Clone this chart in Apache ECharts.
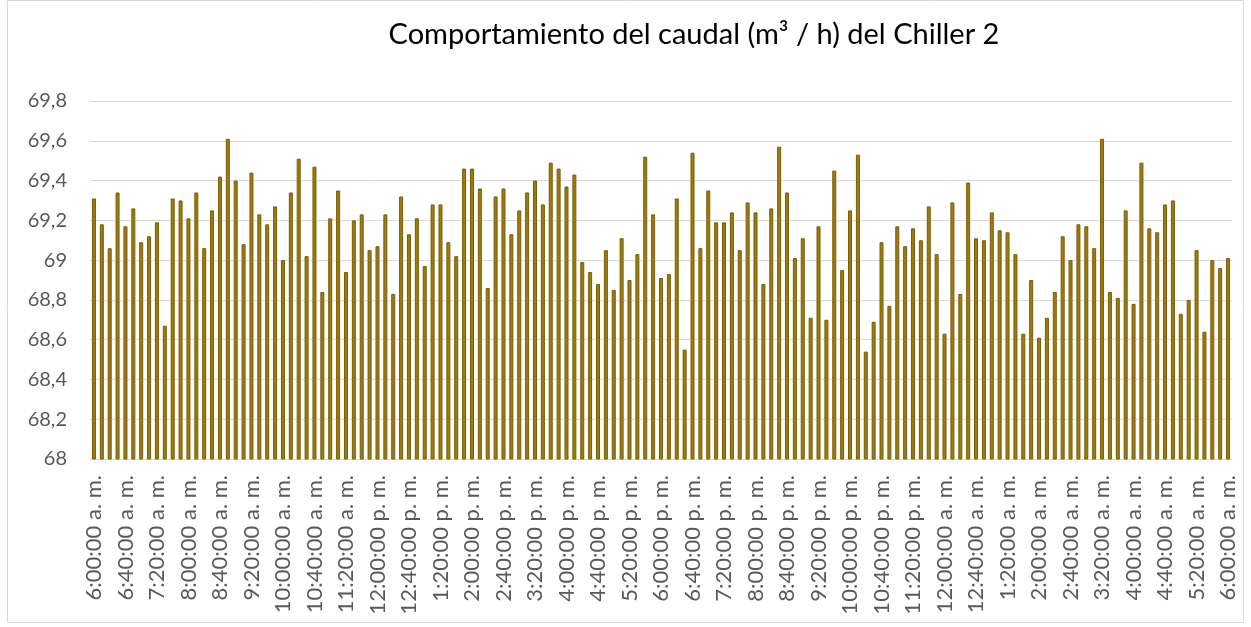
<!DOCTYPE html>
<html>
<head>
<meta charset="utf-8">
<title>Caudal Chiller 2</title>
<script src="https://cdn.jsdelivr.net/npm/echarts@6/dist/echarts.min.js"></script>
<style>
  html, body { margin: 0; padding: 0; background: #fff; }
  #chart { width: 1251px; height: 627px; }
</style>
</head>
<body>
<div id="chart"></div>
<script>
// horas cada 10 minutos, de 6:00 a. m. a 6:00 a. m. del dia siguiente
var horas = [
  '6:00:00 a. m.', '6:10:00 a. m.', '6:20:00 a. m.', '6:30:00 a. m.', '6:40:00 a. m.', '6:50:00 a. m.',
  '7:00:00 a. m.', '7:10:00 a. m.', '7:20:00 a. m.', '7:30:00 a. m.', '7:40:00 a. m.', '7:50:00 a. m.',
  '8:00:00 a. m.', '8:10:00 a. m.', '8:20:00 a. m.', '8:30:00 a. m.', '8:40:00 a. m.', '8:50:00 a. m.',
  '9:00:00 a. m.', '9:10:00 a. m.', '9:20:00 a. m.', '9:30:00 a. m.', '9:40:00 a. m.', '9:50:00 a. m.',
  '10:00:00 a. m.', '10:10:00 a. m.', '10:20:00 a. m.', '10:30:00 a. m.', '10:40:00 a. m.', '10:50:00 a. m.',
  '11:00:00 a. m.', '11:10:00 a. m.', '11:20:00 a. m.', '11:30:00 a. m.', '11:40:00 a. m.', '11:50:00 a. m.',
  '12:00:00 p. m.', '12:10:00 p. m.', '12:20:00 p. m.', '12:30:00 p. m.', '12:40:00 p. m.', '12:50:00 p. m.',
  '1:00:00 p. m.', '1:10:00 p. m.', '1:20:00 p. m.', '1:30:00 p. m.', '1:40:00 p. m.', '1:50:00 p. m.',
  '2:00:00 p. m.', '2:10:00 p. m.', '2:20:00 p. m.', '2:30:00 p. m.', '2:40:00 p. m.', '2:50:00 p. m.',
  '3:00:00 p. m.', '3:10:00 p. m.', '3:20:00 p. m.', '3:30:00 p. m.', '3:40:00 p. m.', '3:50:00 p. m.',
  '4:00:00 p. m.', '4:10:00 p. m.', '4:20:00 p. m.', '4:30:00 p. m.', '4:40:00 p. m.', '4:50:00 p. m.',
  '5:00:00 p. m.', '5:10:00 p. m.', '5:20:00 p. m.', '5:30:00 p. m.', '5:40:00 p. m.', '5:50:00 p. m.',
  '6:00:00 p. m.', '6:10:00 p. m.', '6:20:00 p. m.', '6:30:00 p. m.', '6:40:00 p. m.', '6:50:00 p. m.',
  '7:00:00 p. m.', '7:10:00 p. m.', '7:20:00 p. m.', '7:30:00 p. m.', '7:40:00 p. m.', '7:50:00 p. m.',
  '8:00:00 p. m.', '8:10:00 p. m.', '8:20:00 p. m.', '8:30:00 p. m.', '8:40:00 p. m.', '8:50:00 p. m.',
  '9:00:00 p. m.', '9:10:00 p. m.', '9:20:00 p. m.', '9:30:00 p. m.', '9:40:00 p. m.', '9:50:00 p. m.',
  '10:00:00 p. m.', '10:10:00 p. m.', '10:20:00 p. m.', '10:30:00 p. m.', '10:40:00 p. m.', '10:50:00 p. m.',
  '11:00:00 p. m.', '11:10:00 p. m.', '11:20:00 p. m.', '11:30:00 p. m.', '11:40:00 p. m.', '11:50:00 p. m.',
  '12:00:00 a. m.', '12:10:00 a. m.', '12:20:00 a. m.', '12:30:00 a. m.', '12:40:00 a. m.', '12:50:00 a. m.',
  '1:00:00 a. m.', '1:10:00 a. m.', '1:20:00 a. m.', '1:30:00 a. m.', '1:40:00 a. m.', '1:50:00 a. m.',
  '2:00:00 a. m.', '2:10:00 a. m.', '2:20:00 a. m.', '2:30:00 a. m.', '2:40:00 a. m.', '2:50:00 a. m.',
  '3:00:00 a. m.', '3:10:00 a. m.', '3:20:00 a. m.', '3:30:00 a. m.', '3:40:00 a. m.', '3:50:00 a. m.',
  '4:00:00 a. m.', '4:10:00 a. m.', '4:20:00 a. m.', '4:30:00 a. m.', '4:40:00 a. m.', '4:50:00 a. m.',
  '5:00:00 a. m.', '5:10:00 a. m.', '5:20:00 a. m.', '5:30:00 a. m.', '5:40:00 a. m.', '5:50:00 a. m.',
  '6:00:00 a. m.'
];

// caudal (m3/h)
var caudal = [
  69.31, 69.18, 69.06, 69.34, 69.17, 69.26, 69.09, 69.12, 69.19, 68.67, 69.31, 69.30,
  69.21, 69.34, 69.06, 69.25, 69.42, 69.61, 69.40, 69.08, 69.44, 69.23, 69.18, 69.27,
  69.00, 69.34, 69.51, 69.02, 69.47, 68.84, 69.21, 69.35, 68.94, 69.20, 69.23, 69.05,
  69.07, 69.23, 68.83, 69.32, 69.13, 69.21, 68.97, 69.28, 69.28, 69.09, 69.02, 69.46,
  69.46, 69.36, 68.86, 69.32, 69.36, 69.13, 69.25, 69.34, 69.40, 69.28, 69.49, 69.46,
  69.37, 69.43, 68.99, 68.94, 68.88, 69.05, 68.85, 69.11, 68.90, 69.03, 69.52, 69.23,
  68.91, 68.93, 69.31, 68.55, 69.54, 69.06, 69.35, 69.19, 69.19, 69.24, 69.05, 69.29,
  69.24, 68.88, 69.26, 69.57, 69.34, 69.01, 69.11, 68.71, 69.17, 68.70, 69.45, 68.95,
  69.25, 69.53, 68.54, 68.69, 69.09, 68.77, 69.17, 69.07, 69.16, 69.10, 69.27, 69.03,
  68.63, 69.29, 68.83, 69.39, 69.11, 69.10, 69.24, 69.15, 69.14, 69.03, 68.63, 68.90,
  68.61, 68.71, 68.84, 69.12, 69.00, 69.18, 69.17, 69.06, 69.61, 68.84, 68.81, 69.25,
  68.78, 69.49, 69.16, 69.14, 69.28, 69.30, 68.73, 68.80, 69.05, 68.64, 69.00, 68.96,
  69.01
];

var titulo = 'Comportamiento del caudal (m³ / h) del Chiller 2';
var ejeMin = 68, ejeMax = 69.8, ejeIntervalo = 0.2;

var chart = echarts.init(document.getElementById('chart'), null, { renderer: 'canvas' });

var option = {
  backgroundColor: '#fff',
  animation: false,
  textStyle: { fontFamily: 'Lato' },
  title: {
    text: titulo,
    left: 689,
    top: 15,
    textAlign: 'center',
    textStyle: { fontFamily: 'Lato', fontSize: 29, fontWeight: 'normal', color: '#000' }
  },
  graphic: [{
    type: 'rect',
    shape: { x: 7.5, y: 0.5, width: 1236, height: 622 },
    style: { fill: 'none', stroke: '#d9d9d9', lineWidth: 1 },
    silent: true
  }],
  grid: { left: 90, right: 19, top: 101, bottom: 168 },
  xAxis: {
    type: 'category',
    data: horas,
    axisLine: { lineStyle: { color: '#d9d9d9' } },
    axisTick: { show: false },
    axisLabel: {
      interval: 3,
      rotate: 90,
      margin: 16,
      fontSize: 22,
      color: '#595959',
      fontFamily: 'Lato'
    }
  },
  yAxis: {
    type: 'value',
    min: ejeMin,
    max: ejeMax,
    interval: ejeIntervalo,
    axisLine: { show: false },
    axisTick: { show: false },
    splitLine: { lineStyle: { color: '#d9d9d9', width: 1 } },
    axisLabel: {
      margin: 23,
      fontSize: 20,
      color: '#595959',
      fontFamily: 'Lato',
      formatter: function (v) {
        return String(Math.round(v * 10) / 10).replace('.', ',');
      }
    }
  },
  series: [{
    type: 'bar',
    data: caudal,
    barWidth: 4,
    itemStyle: {
      color: '#9c7c12',
      borderColor: '#7a5c00',
      borderWidth: 1
    }
  }]
};

chart.setOption(option);
</script>
</body>
</html>
